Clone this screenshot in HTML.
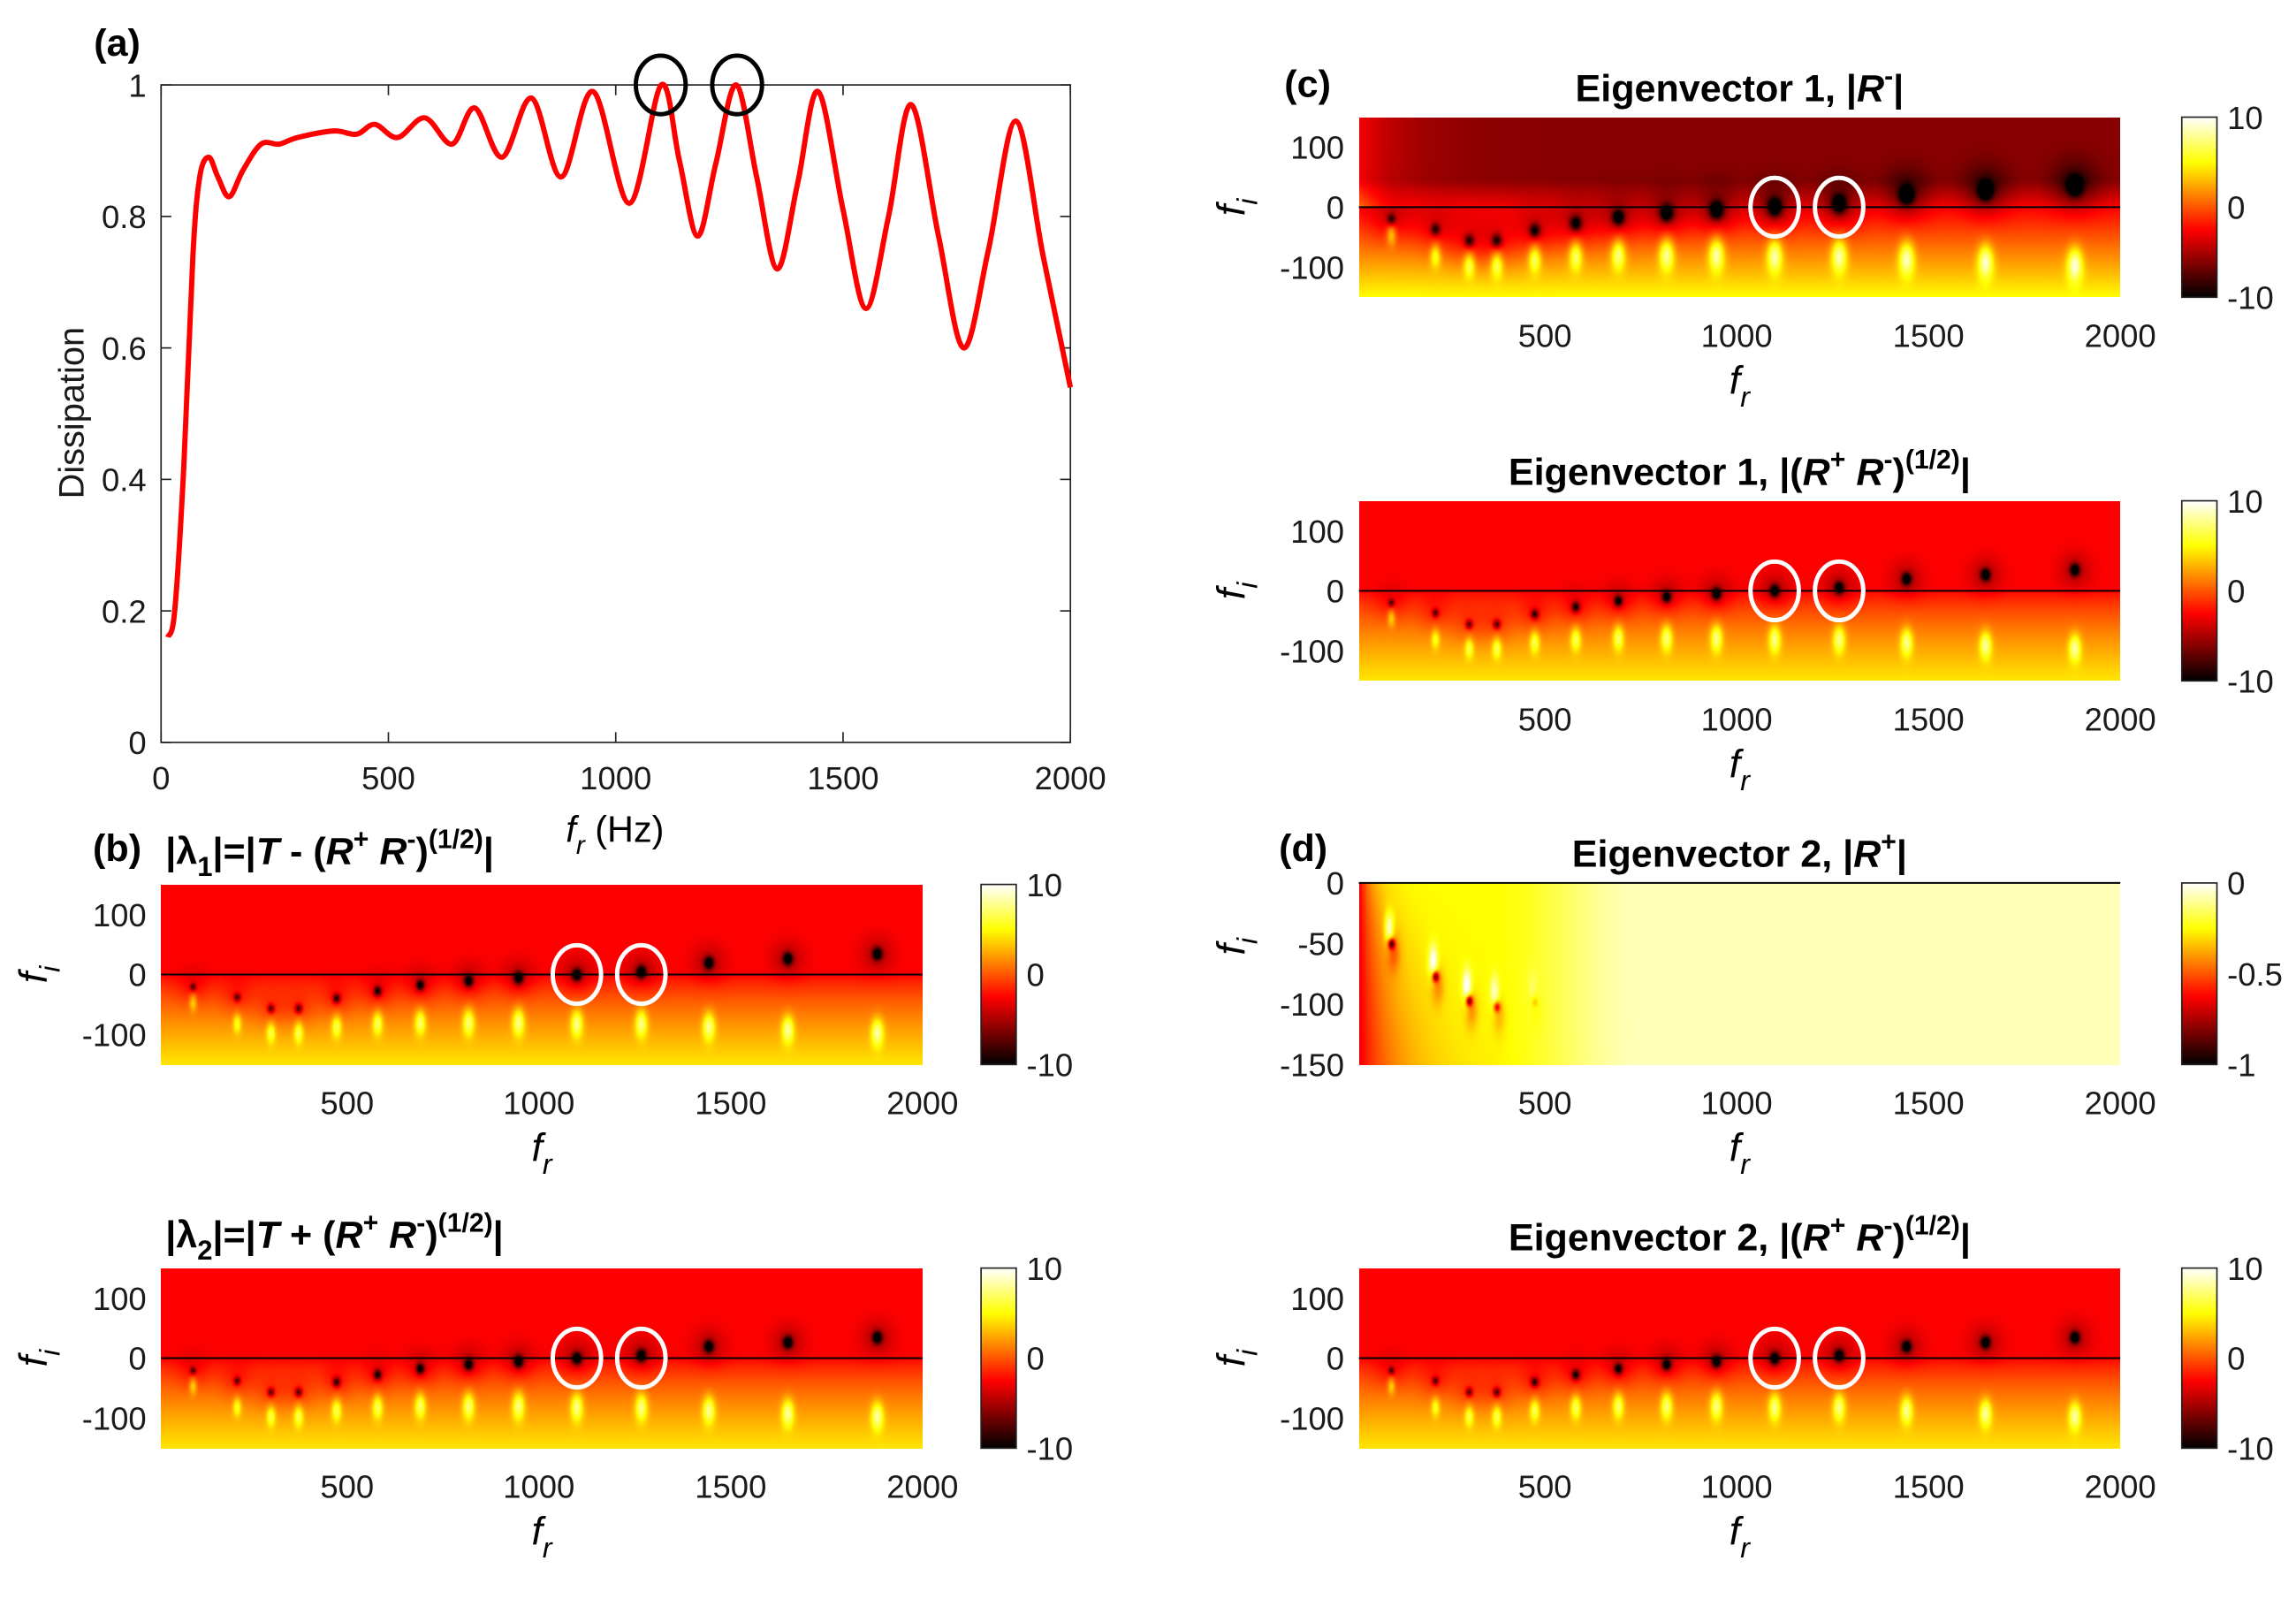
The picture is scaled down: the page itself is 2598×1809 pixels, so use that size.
<!DOCTYPE html>
<html><head><meta charset="utf-8"><style>
html,body{margin:0;padding:0;background:#fff;}
#root{position:relative;width:2598px;height:1809px;overflow:hidden;background:#fff;}
canvas{position:absolute;image-rendering:auto;}
svg{position:absolute;left:0;top:0;}
</style></head><body>
<div id="root">
<svg id="svg" width="2598" height="1809" viewBox="0 0 1568 1092" preserveAspectRatio="none">
<defs>
<linearGradient id="hotg" x1="0" y1="1" x2="0" y2="0">
<stop offset="0" stop-color="#000"/><stop offset="0.375" stop-color="#f00"/><stop offset="0.75" stop-color="#ff0"/><stop offset="1" stop-color="#fff"/>
</linearGradient>
</defs>
</svg>
</div>
<script>
// ---- Data: dissipation curve (panel a) ----
const dissFreq=[15,30,50,70,85,105,125,150,180,220,260,300,380,430,470,520,580,640,690,750,815,880,950,1030,1100,1140,1180,1220,1265,1310,1355,1400,1445,1500,1550,1600,1650,1710,1765,1820,1880,1940,2000];
const dissVal=[0.16,0.2,0.42,0.74,0.86,0.89,0.86,0.83,0.87,0.91,0.91,0.92,0.93,0.925,0.94,0.92,0.95,0.91,0.965,0.89,0.98,0.86,0.99,0.82,1.0,0.885,0.77,0.88,1.0,0.86,0.72,0.85,0.99,0.81,0.66,0.8,0.97,0.77,0.6,0.75,0.945,0.74,0.54];
const dissXTicks=[0,500,1000,1500,2000];
const dissYTicks=[0,0.2,0.4,0.6,0.8,1];
const dissYTickLabels=['0','0.2','0.4','0.6','0.8','1'];
// ---- Data: pole/zero locations for the complex-frequency maps ----
const poleFr=[99,214,302,374,473,580,691,817,947,1099,1267,1443,1649,1882];
const poleFi=[-20,-37,-56,-56,-39,-27,-17,-10,-5,0,5,20,27,35];
const zeroFi=[-45,-80,-95,-95,-85,-80,-78,-78,-78,-80,-80,-85,-90,-95];
const d1PoleFi=[-50,-77,-97,-102,-98];
const circledFr=[1099,1267];
const mapXTicks=[500,1000,1500,2000];
const mapYTicks=[100,0,-100];
const d1YTicks=[0,-50,-100,-150];
const cbLabelsStd=['10','0','-10'];
const cbLabelsD=['0','-0.5','-1'];

const S=2598/1568;
const NS='http://www.w3.org/2000/svg';
const svg=document.getElementById('svg');
const root=document.getElementById('root');
const FONT='"Liberation Sans", Arial, sans-serif';

function mk(tag,attrs,parent){const e=document.createElementNS(NS,tag);for(const k in attrs)e.setAttribute(k,attrs[k]);(parent||svg).appendChild(e);return e;}
function txt(x,y,s,size,anchor,extra){const e=mk('text',Object.assign({x:x,y:y,'font-family':FONT,'font-size':size,'text-anchor':anchor||'middle',fill:'#1a1a1a'},extra||{}));e.textContent=s;return e;}
function rich(x,y,segs,size,anchor,bold){
  const t=mk('text',{x:x,y:y,'font-family':FONT,'font-size':size,'text-anchor':anchor,'font-weight':bold?'bold':'normal',fill:'#000'});
  let shift=0;
  segs.forEach(([s,k])=>{
    const sp=document.createElementNS(NS,'tspan');
    let target=0,fs=size;
    if(k==='sup'){target=-size*0.42;fs=size*0.7;}
    if(k==='sub'||k==='isub'){target=size*0.32;fs=size*0.72;}
    sp.setAttribute('dy',(target-shift).toFixed(2));shift=target;
    sp.setAttribute('font-size',fs);
    if(k==='i'||k==='isub')sp.setAttribute('font-style','italic');
    sp.textContent=s;t.appendChild(sp);
  });
  return t;
}

// ---------- Panel (a) ----------
const A={x0:110,x1:731,y0:58,y1:507};
const ax=v=>A.x0+(v-0)/2000*(A.x1-A.x0);
const ay=v=>A.y1-(v-0)/1*(A.y1-A.y0);
const ga=mk('g',{});


let ab=mk('rect',{x:A.x0,y:A.y0,width:A.x1-A.x0,height:A.y1-A.y0,fill:'none',stroke:'#222','stroke-width':1},ga);


dissXTicks.forEach(v=>{
  mk('line',{x1:ax(v),x2:ax(v),y1:A.y1,y2:A.y1-7,stroke:'#222'},ga);
  mk('line',{x1:ax(v),x2:ax(v),y1:A.y0,y2:A.y0+7,stroke:'#222'},ga);
  const l=txt(ax(v),A.y1+32,String(v),22,'middle');
  
  
});
dissYTicks.forEach((v,i)=>{
  mk('line',{x1:A.x0,x2:A.x0+7,y1:ay(v),y2:ay(v),stroke:'#222'},ga);
  mk('line',{x1:A.x1,x2:A.x1-7,y1:ay(v),y2:ay(v),stroke:'#222'},ga);
  const l=txt(A.x0-10,ay(v)+8,dissYTickLabels[i],22,'end');
  
  
});
(function(){
  const P=dissFreq.map((f,i)=>[ax(f),ay(dissVal[i])]);
  let d='M'+P[0][0]+','+P[0][1];
  for(let i=0;i<P.length-1;i++){
    const p0=P[Math.max(0,i-1)],p1=P[i],p2=P[i+1],p3=P[Math.min(P.length-1,i+2)];
    const c1=[p1[0]+(p2[0]-p0[0])/6,p1[1]+(p2[1]-p0[1])/6];
    const c2=[p2[0]-(p3[0]-p1[0])/6,p2[1]-(p3[1]-p1[1])/6];
    d+=' C'+c1[0].toFixed(2)+','+c1[1].toFixed(2)+' '+c2[0].toFixed(2)+','+c2[1].toFixed(2)+' '+p2[0].toFixed(2)+','+p2[1].toFixed(2);
  }
  const c=mk('path',{d:d,fill:'none',stroke:'#f00','stroke-width':3.6,'stroke-linejoin':'round'},ga);
  
  
})();
circledFr.forEach(f=>{
  const c=mk('ellipse',{cx:ax(f),cy:A.y0,rx:17,ry:20,fill:'none',stroke:'#000','stroke-width':3},ga);
  
  
});
let yl=txt(0,0,'Dissipation',24,'middle',{transform:'translate(57,282) rotate(-90)'});


let xl=rich(420,575,[['f','i'],['r','isub'],[' (Hz)','n']],25,'middle',false);


let la=txt(80,38,'(a)',26,'middle',{'font-weight':'bold',fill:'#000'});



function hot(t){t=Math.max(0,Math.min(1,t));return [Math.min(1,t/0.375),Math.max(0,Math.min(1,(t-0.375)/0.375)),Math.max(0,Math.min(1,(t-0.75)/0.25))];}

const panels=[
 {id:'b1',x0:110,x1:630,y0:604,y1:727,fmin:-150,fmax:150,cbx:670,mode:'std',title:[['|λ','n'],['1','sub'],['|=|','n'],['T','i'],[' - (','n'],['R','i'],['+','sup'],[' ','n'],['R','i'],['-','sup'],[')','n'],['(1/2)','sup'],['|','n']],tx:113,ty:590,anchor:'start'},
 {id:'b2',x0:110,x1:630,y0:866,y1:989,fmin:-150,fmax:150,cbx:670,mode:'std',title:[['|λ','n'],['2','sub'],['|=|','n'],['T','i'],[' + (','n'],['R','i'],['+','sup'],[' ','n'],['R','i'],['-','sup'],[')','n'],['(1/2)','sup'],['|','n']],tx:113,ty:852,anchor:'start'},
 {id:'c1',x0:928,x1:1448,y0:80,y1:203,fmin:-150,fmax:150,cbx:1490,mode:'deep',title:[['Eigenvector 1, |','n'],['R','i'],['-','sup'],['|','n']],tx:1188,ty:69,anchor:'middle'},
 {id:'c2',x0:928,x1:1448,y0:342,y1:465,fmin:-150,fmax:150,cbx:1490,mode:'std',title:[['Eigenvector 1, |(','n'],['R','i'],['+','sup'],[' ','n'],['R','i'],['-','sup'],[')','n'],['(1/2)','sup'],['|','n']],tx:1188,ty:331,anchor:'middle'},
 {id:'d1',x0:928,x1:1448,y0:603,y1:727,fmin:-150,fmax:0,cbx:1490,mode:'d',title:[['Eigenvector 2, |','n'],['R','i'],['+','sup'],['|','n']],tx:1188,ty:592,anchor:'middle'},
 {id:'d2',x0:928,x1:1448,y0:866,y1:989,fmin:-150,fmax:150,cbx:1490,mode:'std',title:[['Eigenvector 2, |(','n'],['R','i'],['+','sup'],[' ','n'],['R','i'],['-','sup'],[')','n'],['(1/2)','sup'],['|','n']],tx:1188,ty:854,anchor:'middle'}
];
const FR0=15,FR1=2000;
const g2=(x,s)=>Math.exp(-x*x/(2*s*s));
const smooth=(a,b,x)=>{const u=Math.max(0,Math.min(1,(x-a)/(b-a)));return u*u*(3-2*u);};

function field(mode,fr,fi,sx,sy){
  if(mode==='d'){
    let t=0.93-0.18*(1-smooth(350,750,fr));
    const w=35+80*(-fi/150);
    t-=0.4*Math.exp(-(fr-15)/w);
    for(let k=0;k<d1PoleFi.length;k++){
      const dx=(fr-poleFr[k])*sx,dy=(fi-d1PoleFi[k])*sy;
      const amp=k<3?1:(k===3?0.7:0.2);
      t-=amp*0.55*g2(dx,1.6)*g2(dy,2.5);
      t-=amp*0.15*g2(dx-1.5,3)*g2(dy+6,9);
      t+=amp*0.3*g2(dx+1.5,2.2)*g2(dy-10,8);
    }
    return t;
  }
  const deep=mode==='deep';
  let v;
  if(fi>=0){v=deep?(-2.5-3.5*Math.min(1,fi/45)):-2.5;}
  else{const u=-fi/150;v=deep?(-2.5+7.5*u):(-2.5+6.8*Math.pow(u,0.75));}
  if(deep&&fi>0)v+=3.3*Math.exp(-(fr-15)/110);
  const bs=deep?3.2:2.2, hs=deep?11:8, ha=deep?3:2;
  for(let k=0;k<poleFr.length;k++){
    const sc=0.6+0.4*Math.min(1,poleFr[k]/900);
    const dx=(fr-poleFr[k])*sx,dy=(fi-poleFi[k])*sy,dz=(fi-zeroFi[k])*sy;
    v-=9*sc*g2(dx,bs*sc)*g2(dy,bs*1.3*sc);
    v-=ha*sc*g2(dx,hs)*g2(dy,hs*1.1);
    v+=(deep?7:6)*sc*g2(dx,(deep?3.6:2.8)*sc)*g2(dz,(deep?8:6.5)*sc);
  }
  return (v+10)/20;
}

panels.forEach(p=>{
  const W=p.x1-p.x0,H=p.y1-p.y0;
  const sx=W/(FR1-FR0), sy=H/(p.fmax-p.fmin);
  const px=v=>p.x0+(v-FR0)*sx, py=v=>p.y1-(v-p.fmin)*sy;
  const cw=Math.round(W*2),chh=Math.round(H*2);
  const cv=document.createElement('canvas');
  cv.width=cw;cv.height=chh;
  cv.style.left=(p.x0*S)+'px';cv.style.top=(p.y0*S)+'px';
  cv.style.width=(W*S)+'px';cv.style.height=(H*S)+'px';
  
  
  root.insertBefore(cv,svg);
  const ctx=cv.getContext('2d');const img=ctx.createImageData(cw,chh);
  for(let j=0;j<chh;j++){
    const fi=p.fmax-(j+0.5)/chh*(p.fmax-p.fmin);
    for(let i=0;i<cw;i++){
      const fr=FR0+(i+0.5)/cw*(FR1-FR0);
      const c=hot(field(p.mode,fr,fi,sx,sy));const o=(j*cw+i)*4;
      img.data[o]=c[0]*255;img.data[o+1]=c[1]*255;img.data[o+2]=c[2]*255;img.data[o+3]=255;
    }
  }
  ctx.putImageData(img,0,0);
  const g=mk('g',{});
  
  
  const zl=mk('line',{x1:p.x0,x2:p.x1,y1:py(0),y2:py(0),stroke:'#000','stroke-width':1.2},g);
  
  
  if(p.mode!=='d'){
    circledFr.forEach(f=>{
      const c=mk('ellipse',{cx:px(f),cy:py(0),rx:16.5,ry:20,fill:'none',stroke:'#fff','stroke-width':3},g);
      
      
    });
  }
  mapXTicks.forEach(v=>{
    const l=txt(px(v),p.y1+34,String(v),22,'middle',{},g);
    
    
  });
  (p.mode==='d'?d1YTicks:mapYTicks).forEach(v=>{
    const l=txt(p.x0-10,py(v)+8,String(v),22,'end');
    
    
  });
  const xt=rich((p.x0+p.x1)/2,p.y1+66,[['f','i'],['r','isub']],27,'middle',false);
  
  
  const yt=rich(0,0,[['f','i'],['i','isub']],27,'middle',false);
  yt.setAttribute('transform','translate('+(p.x0-78)+','+(p.mode==='d'?py(-50)+2:py(0))+') rotate(-90)');
  
  
  const tt=rich(p.tx,p.ty,p.title,26,p.anchor,true);
  
  
  const cb=mk('rect',{x:p.cbx,y:p.y0,width:24,height:H,fill:'url(#hotg)',stroke:'#222','stroke-width':1},g);
  
  
  const labs=p.mode==='d'?cbLabelsD:cbLabelsStd;
  [p.y0+8,(p.y0+p.y1)/2+8,p.y1+8].forEach((y,i)=>{
    const l=txt(p.cbx+31,y,labs[i],22,'start');
    
    
  });
});
[['(b)',80,588],['(c)',893,66],['(d)',890,588]].forEach(([s,x,y])=>{
  const l=txt(x,y,s,26,'middle',{'font-weight':'bold',fill:'#000'});
  
  
});
</script>
</body></html>
